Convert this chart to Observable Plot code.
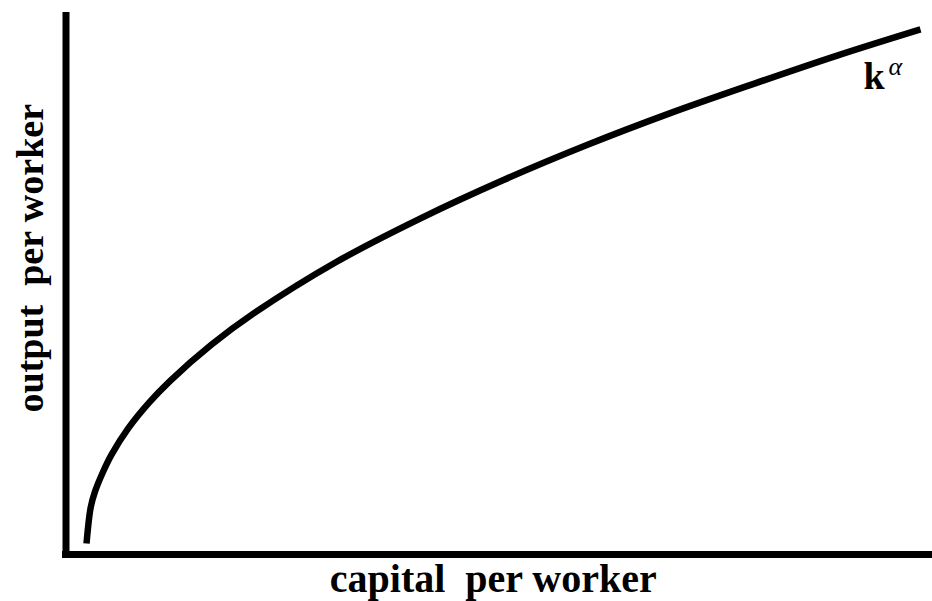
<!DOCTYPE html>
<html>
<head>
<meta charset="utf-8">
<script src="https://cdn.jsdelivr.net/npm/d3@7"></script>
<script src="https://cdn.jsdelivr.net/npm/@observablehq/plot@0.6"></script>
<style>
  html, body { margin: 0; padding: 0; background: #fff; }
  #chart svg { display: block; }
</style>
</head>
<body>
<div id="chart"></div>
<script>
// capital per worker (k), 0..1 of the drawn range
const capital = [0, 0.005, 0.01, 0.02, 0.03, 0.05, 0.075, 0.1, 0.15, 0.2, 0.3, 0.4, 0.5, 0.6, 0.7, 0.8, 0.9, 1];
// output per worker
const output  = [0, 0.07, 0.10, 0.14, 0.173, 0.224, 0.274, 0.316, 0.387, 0.447, 0.548, 0.632, 0.707, 0.775, 0.837, 0.894, 0.949, 1];
const xLabel = "capital\u00a0 per worker";
const yLabel = "output\u00a0 per worker";
const curveLabel = "k";
const curveExponent = "\u03b1";

const data = capital.map((k, i) => ({k, y: output[i]}));
const xDomain = [-0.0246, 1.0144];
const yDomain = [-0.0214, 1.026];
const endPoint = [data[data.length - 1]];
const font = "'Liberation Serif', 'Times New Roman', serif";

const chart = Plot.plot({
  width: 932,
  height: 601,
  marginLeft: 65.5,
  marginRight: 0,
  marginTop: 15.5,
  marginBottom: 47,
  style: {background: "#fff", fontFamily: font},
  x: {domain: xDomain, axis: null},
  y: {domain: yDomain, axis: null},
  marks: [
    Plot.ruleX([xDomain[0]], {stroke: "#000", strokeWidth: 7, strokeLinecap: "square"}),
    Plot.ruleY([yDomain[0]], {stroke: "#000", strokeWidth: 7, strokeLinecap: "square"}),
    Plot.line(data, {x: "k", y: "y", stroke: "#000", strokeWidth: 6.5, curve: "catmull-rom", strokeLinecap: "butt"}),
    Plot.text(endPoint, {x: "k", y: "y", text: () => curveLabel, textAnchor: "start", lineAnchor: "middle",
      dx: -57, dy: 47, fontSize: 38, fontWeight: "bold", fill: "#000", fontFamily: font}),
    Plot.text(endPoint, {x: "k", y: "y", text: () => curveExponent, textAnchor: "start", lineAnchor: "middle",
      dx: -32, dy: 37.7, fontSize: 26, fontStyle: "italic", fill: "#000", fontFamily: font}),
    Plot.text([xLabel], {frameAnchor: "bottom", text: d => d, textAnchor: "middle", lineAnchor: "middle",
      dx: -6, dy: 25, fontSize: 40, fontWeight: "bold", fill: "#000", fontFamily: font}),
    Plot.text([yLabel], {frameAnchor: "left", text: d => d, textAnchor: "middle", lineAnchor: "middle",
      rotate: -90, dx: -35.5, dy: -27, fontSize: 38, fontWeight: "bold", fill: "#000", fontFamily: font})
  ]
});
document.getElementById("chart").appendChild(chart);
</script>
</body>
</html>
